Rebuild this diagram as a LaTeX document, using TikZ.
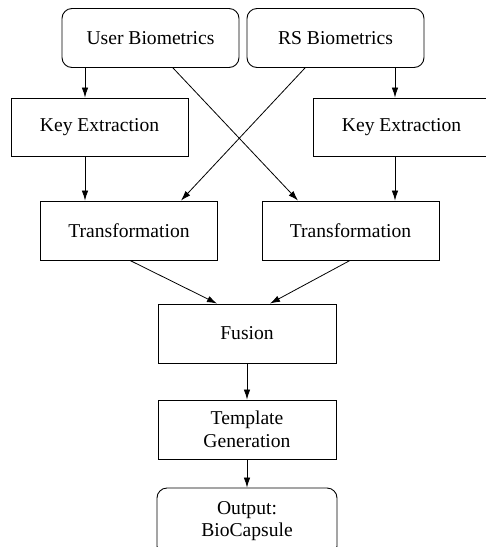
\documentclass[tikz,border=0pt]{standalone}
\usepackage{fontspec}
\setmainfont{Liberation Serif}
\usetikzlibrary{arrows.meta}
\begin{document}
\begin{tikzpicture}[x=1pt,y=-1pt,
  box/.style={draw=black,line width=0.9pt,minimum width=177pt,minimum height=59pt,inner sep=0pt,
    align=center,font=\rmfamily\fontsize{19.6}{22.5}\selectfont},
  rbox/.style={box,rounded corners=10pt},
  arr/.style={line width=0.8pt,-{Latex[length=10pt,width=6.5pt]}}]
\useasboundingbox (0,0) rectangle (486,547);
\node[rbox] (ub) at (150.5,38) {User Biometrics};
\node[rbox] (rs) at (335.5,38) {RS Biometrics};
\node[box,minimum height=58pt] (k1) at (99.5,127) {Key Extraction};
\node[box,minimum height=58pt] (k2) at (401.5,127) {Key Extraction};
\node[box] (t1) at (129,230.5) {Transformation};
\node[box] (t2) at (350.5,230.5) {Transformation};
\node[box,minimum width=178pt] (f) at (247,333.5) {Fusion};
\node[box,minimum width=178pt] (tg) at (247,429.5) {Template\\Generation};
\node[rbox,minimum width=180pt,minimum height=68pt,text depth=6pt] (out) at (247,522) {Output:\\BioCapsule};
\draw[arr] ([xshift=-65.5pt]ub.south) -- ([xshift=-14.5pt]k1.north);
\draw[arr] ([xshift=59.5pt]rs.south) -- ([xshift=-6.5pt]k2.north);
\draw[arr] ([xshift=-14.5pt]k1.south) -- ([xshift=-44pt]t1.north);
\draw[arr] ([xshift=-6.5pt]k2.south) -- ([xshift=44.5pt]t2.north);
\draw[arr] ([xshift=22.5pt]ub.south) -- ([xshift=-52.5pt]t2.north);
\draw[arr] ([xshift=-30.5pt]rs.south) -- ([xshift=52pt]t1.north);
\draw[arr] ([xshift=1pt]t1.south) -- ([xshift=-30pt]f.north);
\draw[arr] ([xshift=-0.5pt]t2.south) -- ([xshift=23pt]f.north);
\draw[arr] (f.south) -- (tg.north);
\draw[arr] (tg.south) -- (out.north);
\end{tikzpicture}
\end{document}
